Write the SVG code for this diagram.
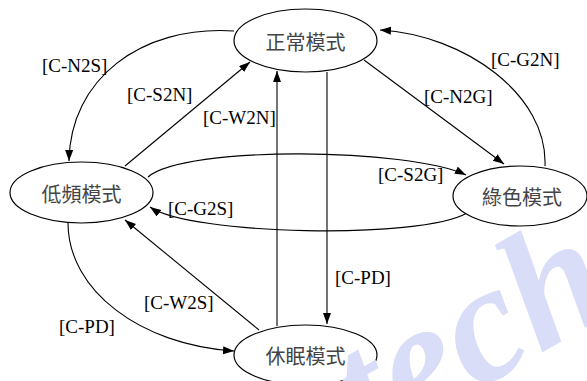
<svg xmlns="http://www.w3.org/2000/svg" width="587" height="381" viewBox="0 0 587 381">
<style>
.node ellipse{fill:#fff;stroke:#000;stroke-width:1.2}
.node text{font-family:"Noto Sans CJK TC","Noto Sans CJK SC",sans-serif;font-size:20px;fill:#444;text-anchor:middle;dominant-baseline:central}
.edge{fill:none;stroke:#000;stroke-width:1.1;marker-end:url(#arr)}
.lbl{font-family:'Liberation Serif',serif;font-size:19px;fill:#000}
.wm{font-family:'Liberation Serif',serif;font-size:168px;font-style:italic;font-weight:bold;fill:#d9ddf8}
</style>
<defs>
<marker id="arr" markerUnits="userSpaceOnUse" markerWidth="12" markerHeight="10" refX="11" refY="4" orient="auto">
<path d="M0,0 L11,4 L0,8 z" fill="#000"/>
</marker>
</defs>
<rect width="587" height="381" fill="#fff"/>
<g id="connectors">
<path class="edge" d="M234,31 C140,25 70,80 69,161"/>
<path class="edge" d="M125,166 L250,62"/>
<path class="edge" d="M277,326 L277,71"/>
<path class="edge" d="M327,72 L327,324"/>
<path class="edge" d="M364,60 L504,164"/>
<path class="edge" d="M545,166 C548,95 465,35 380,30"/>
<path class="edge" d="M148,177 C185,145 410,148 466,175"/>
<path class="edge" d="M467,213 C420,240 190,235 150,207"/>
<path class="edge" d="M259,330 L125,220"/>
<path class="edge" d="M68,223 C68,290 140,345 234,351"/>
</g>
<g id="labels" font-family="Liberation Serif, serif">
<text class="lbl" x="42" y="72">[C-N2S]</text>
<text class="lbl" x="127" y="101">[C-S2N]</text>
<text class="lbl" x="203" y="124">[C-W2N]</text>
<text class="lbl" x="491" y="66">[C-G2N]</text>
<text class="lbl" x="424" y="103">[C-N2G]</text>
<text class="lbl" x="378" y="181">[C-S2G]</text>
<text class="lbl" x="168" y="215">[C-G2S]</text>
<text class="lbl" x="335" y="284">[C-PD]</text>
<text class="lbl" x="144" y="309">[C-W2S]</text>
<text class="lbl" x="59" y="333">[C-PD]</text>
</g>
<g id="n-normal" class="node"><ellipse cx="305.5" cy="40.5" rx="71.5" ry="31.5"/><text x="305.5" y="41">正常模式</text></g>
<g id="n-low" class="node"><ellipse cx="81.5" cy="192.5" rx="71.5" ry="30.5"/><text x="81.5" y="193">低頻模式</text></g>
<g id="n-green" class="node"><ellipse cx="520" cy="196" rx="67" ry="30"/><text x="522" y="196">綠色模式</text></g>
<g id="n-sleep" class="node"><ellipse cx="305.5" cy="355" rx="71.5" ry="30"/><text x="305.5" y="355">休眠模式</text></g>
<text class="wm" transform="translate(370,452) rotate(-30)">tech</text>
</svg>
